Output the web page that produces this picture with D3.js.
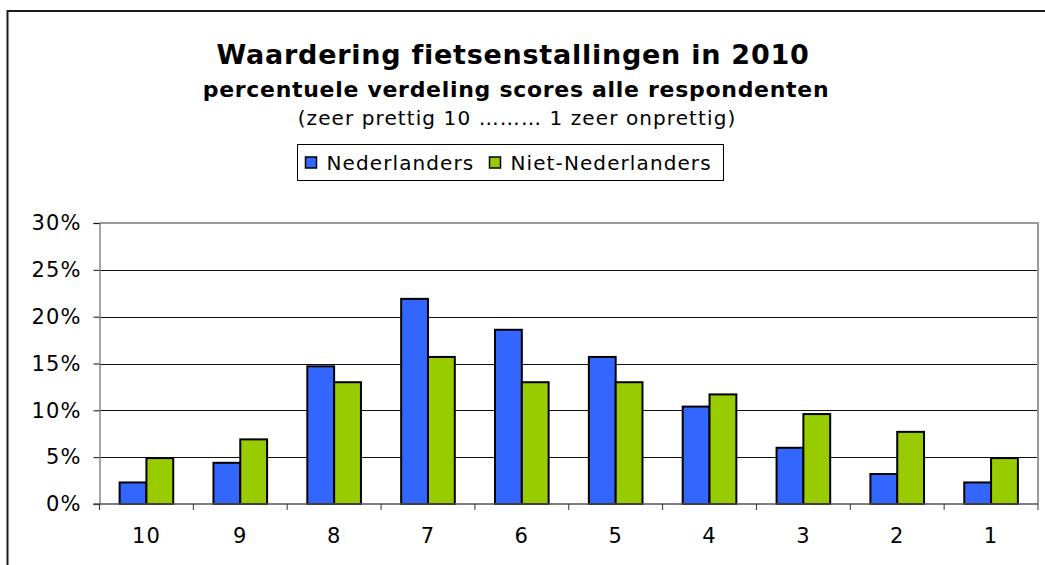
<!DOCTYPE html>
<html>
<head>
<meta charset="utf-8">
<script src="https://cdn.jsdelivr.net/npm/d3@7/dist/d3.min.js"></script>
<style>
	body { margin: 0; background: #fff; }
	text { font-family: 'DejaVu Sans', Verdana, sans-serif; fill: #000; }
</style>
</head>
<body>
<div id="chart"></div>
<script>
// scores (x axis, left to right)
var scores = ['10', '9', '8', '7', '6', '5', '4', '3', '2', '1'];
var series = ['Nederlanders', 'Niet-Nederlanders'];
// percentage per score
var nederlanders = [2.3, 4.4, 14.7, 21.9, 18.6, 15.7, 10.4, 6.0, 3.2, 2.3];
var nietNederlanders = [4.9, 6.9, 13.0, 15.7, 13.0, 13.0, 11.7, 9.6, 7.7, 4.9];
var yTicks = [0, 5, 10, 15, 20, 25, 30];
var colors = ['#3366FF', '#99CC00'];

var width = 1045;
var height = 565;
var plot = { left: 99.5, right: 1038, top: 223, bottom: 504 };
// verdana is wider than dejavu, so a bit of letter spacing
var spacing = '1.1px';

var svg = d3
	.select('#chart')
	.append('svg')
	.attr('width', width)
	.attr('height', height);

// outer chart border (cut off on the right and bottom)
svg
	.append('rect')
	.attr('x', 7.5)
	.attr('y', 11)
	.attr('width', width)
	.attr('height', height)
	.attr('fill', 'none')
	.attr('stroke', '#1a1a1a')
	.attr('stroke-width', 2);

// TITLES
svg.append('text')
	.attr('x', 513)
	.attr('y', 64)
	.attr('text-anchor', 'middle')
	.style('font-size', '27px')
	.style('font-weight', 'bold')
	.style('letter-spacing', '0.75px')
	.text('Waardering fietsenstallingen in 2010');

svg.append('text')
	.attr('x', 516)
	.attr('y', 97)
	.attr('text-anchor', 'middle')
	.style('font-size', '22px')
	.style('font-weight', 'bold')
	.style('letter-spacing', '0.7px')
	.text('percentuele verdeling scores alle respondenten');

svg.append('text')
	.attr('x', 517)
	.attr('y', 125)
	.attr('text-anchor', 'middle')
	.style('font-size', '20px')
	.style('letter-spacing', spacing)
	.text('(zeer prettig 10 \u2026\u2026\u2026 1 zeer onprettig)');

// SCALES
var x0 = d3
	.scaleBand()
	.domain(scores)
	.range([plot.left, plot.right]);

var x1 = d3
	.scaleBand()
	.domain(series)
	.range([0, x0.bandwidth()])
	.paddingOuter(0.75);

var y = d3
	.scaleLinear()
	.domain([0, 30])
	.range([plot.bottom, plot.top]);

// GRIDLINES
svg.append('g')
	.selectAll('line')
	.data(yTicks.filter(function(d){ return d > 0 && d < 30; }))
	.enter()
	.append('line')
	.attr('x1', plot.left)
	.attr('x2', plot.right)
	.attr('y1', function(d){ return Math.round(y(d)) + 0.5; })
	.attr('y2', function(d){ return Math.round(y(d)) + 0.5; })
	.attr('stroke', '#111')
	.attr('stroke-width', 1.2);

// plot area border top / right (grey)
svg.append('path')
	.attr('d', 'M' + plot.left + ',' + y(30) + 'H' + plot.right + 'V' + plot.bottom)
	.attr('fill', 'none')
	.attr('stroke', '#999')
	.attr('stroke-width', 2);

// BARS
var rows = scores.map(function(s, i){
	return { score: s, values: [nederlanders[i], nietNederlanders[i]] };
});

svg.append('g')
	.selectAll('g')
	.data(rows)
	.enter()
	.append('g')
	.attr('transform', function(d){ return 'translate(' + x0(d.score) + ',0)'; })
	.selectAll('rect')
	.data(function(d){ return d.values.map(function(v, j){ return { key: series[j], value: v, color: colors[j] }; }); })
	.enter()
	.append('rect')
	.attr('x', function(d){ return x1(d.key); })
	.attr('y', function(d){ return y(d.value); })
	.attr('width', x1.bandwidth())
	.attr('height', function(d){ return y(0) - y(d.value); })
	.attr('fill', function(d){ return d.color; })
	.attr('stroke', '#000')
	.attr('stroke-width', 2);

// Y AXIS
var yAxis = svg.append('g')
	.attr('transform', 'translate(' + plot.left + ',0)')
	.call(d3.axisLeft(y)
		.tickValues(yTicks)
		.tickSize(6)
		.tickPadding(12)
		.tickFormat(function(d){ return d + '%'; }));

yAxis.select('.domain').attr('stroke', '#888').attr('stroke-width', 1.5);
yAxis.selectAll('.tick line').attr('stroke', '#111');
yAxis.selectAll('.tick text')
	.style('font-size', '21px')
	.style('letter-spacing', spacing)
	.style('font-family', "'DejaVu Sans', Verdana, sans-serif")
	.attr('fill', '#000');

// X AXIS
var xAxis = svg.append('g')
	.attr('transform', 'translate(0,' + plot.bottom + ')');

xAxis.append('line')
	.attr('x1', plot.left - 6)
	.attr('x2', plot.right)
	.attr('stroke', '#555')
	.attr('stroke-width', 1.5);

xAxis.selectAll('.xtick')
	.data(scores.concat(['end']))
	.enter()
	.append('line')
	.attr('class', 'xtick')
	.attr('x1', function(d){ return d == 'end' ? plot.right : x0(d); })
	.attr('x2', function(d){ return d == 'end' ? plot.right : x0(d); })
	.attr('y1', 0)
	.attr('y2', 6)
	.attr('stroke', '#333');

xAxis.selectAll('.xlabel')
	.data(scores)
	.enter()
	.append('text')
	.attr('class', 'xlabel')
	.attr('x', function(d){ return x0(d) + x0.bandwidth() / 2; })
	.attr('y', 39)
	.attr('text-anchor', 'middle')
	.style('font-size', '21px')
	.style('letter-spacing', spacing)
	.text(function(d){ return d; });

// LEGEND
var legend = svg.append('g')
	.attr('transform', 'translate(297.5,144.5)');

legend.append('rect')
	.attr('width', 426)
	.attr('height', 36)
	.attr('fill', '#fff')
	.attr('stroke', '#000')
	.attr('stroke-width', 1);

var legendX = [8, 192];

var item = legend.selectAll('.item')
	.data(series)
	.enter()
	.append('g')
	.attr('class', 'item')
	.attr('transform', function(d, i){ return 'translate(' + legendX[i] + ',0)'; });

item.append('rect')
	.attr('x', 0)
	.attr('y', 12.5)
	.attr('width', 11)
	.attr('height', 11)
	.attr('fill', function(d, i){ return colors[i]; })
	.attr('stroke', '#000')
	.attr('stroke-width', 1.5);

item.append('text')
	.attr('x', 21)
	.attr('y', 25.5)
	.style('font-size', '20px')
	.style('letter-spacing', spacing)
	.text(function(d){ return d; });
</script>
</body>
</html>
